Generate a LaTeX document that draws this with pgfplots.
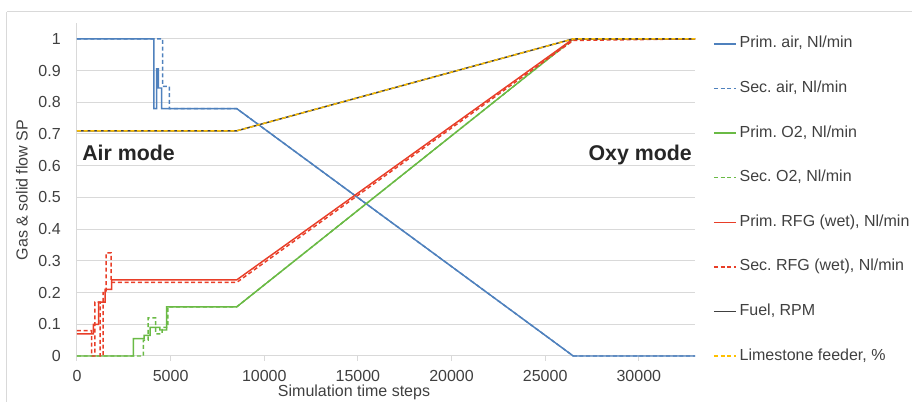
\documentclass[border=0pt]{standalone}
\usepackage{fontspec}
\setmainfont{Liberation Sans}
\usepackage{pgfplots}
\pgfplotsset{compat=1.18}
\definecolor{cblue}{RGB}{79,129,189}
\definecolor{cred}{RGB}{232,62,40}
\definecolor{cgreen}{RGB}{106,186,69}
\definecolor{cfuel}{RGB}{64,64,64}
\definecolor{corange}{RGB}{255,192,0}
\definecolor{cgrid}{RGB}{217,217,217}
\definecolor{ctext}{RGB}{64,64,64}
\begin{document}
\frenchspacing
\begin{tikzpicture}
\path[use as bounding box] (-57.75pt,-34.5pt) rectangle (626.25pt,267pt);
\begin{axis}[
  at={(0,0)}, anchor=south west,
  scale only axis, width=463.5pt, height=249.75pt,
  xmin=0, xmax=33000, ymin=0, ymax=1.05,
  clip=false,
  axis x line=bottom, axis y line=left,
  axis line style={draw=cgrid, line width=0.75pt, -},
  xtick={0,5000,10000,15000,20000,25000,30000},
  ytick={0,0.1,0.2,0.3,0.4,0.5,0.6,0.7,0.8,0.9,1},
  scaled x ticks=false,
  /pgf/number format/assume math mode=true,
  xticklabel style={/pgf/number format/1000 sep={}, anchor=north, inner sep=0pt, yshift=-6.75pt},
  yticklabel style={/pgf/number format/fixed, /pgf/number format/precision=1, anchor=east, inner sep=0pt, xshift=-8.25pt},
  tick label style={font=\fontsize{12}{14}\selectfont, text=ctext},
  ymajorgrids, grid style={cgrid, line width=0.75pt},
  major tick length=3.75pt, tick align=outside,
  ytick style={draw=none}, xtick style={draw=cgrid, line width=0.75pt},
  legend image code/.code={\draw[#1] (0pt,0pt) -- (16.5pt,0pt);},
  legend cell align=left,
  legend style={draw=none, fill=none, at={(1.029,0.962)}, anchor=north west,
    inner sep=0pt, row sep=21.45pt,
    nodes={inner sep=0pt, text height=9pt, text depth=3pt, font=\fontsize{12}{14}\selectfont\frenchspacing, text=ctext},
    /tikz/every odd column/.style={column sep=2.25pt}},
]
\addplot[cblue, line width=1.1pt] coordinates {(0,1)(4110,1)(4110,0.78)(4250,0.78)(4250,0.905)(4340,0.905)(4340,0.845)(4520,0.845)(4520,0.78)(8530,0.78)(26500,0)(33000,0)};
\addlegendentry{Prim. air, Nl/min}
\addplot[cblue, line width=1.1pt, dash pattern=on 3pt off 2pt] coordinates {(0,1)(4570,1)(4570,0.85)(4930,0.85)(4930,0.78)(8530,0.78)(26500,0)(33000,0)};
\addlegendentry{Sec. air, Nl/min}
\addplot[cgreen, line width=1.1pt] coordinates {(0,0)(3010,0)(3010,0.055)(3580,0.055)(3580,0.065)(3900,0.065)(3900,0.09)(4430,0.09)(4430,0.082)(4790,0.082)(4790,0.155)(8530,0.155)(26500,1)(33000,1)};
\addlegendentry{Prim. O2, Nl/min}
\addplot[cgreen, line width=1.1pt, dash pattern=on 3pt off 2pt] coordinates {(0,0)(3540,0)(3540,0.05)(3800,0.05)(3800,0.12)(4200,0.12)(4200,0.07)(4550,0.07)(4550,0.09)(4850,0.09)(4850,0.155)(8530,0.155)(26500,1)(33000,1)};
\addlegendentry{Sec. O2, Nl/min}
\addplot[cred, line width=1.1pt] coordinates {(0,0.07)(870,0.07)(870,0.1)(1150,0.1)(1150,0.17)(1500,0.17)(1500,0.21)(1850,0.21)(1850,0.24)(8530,0.24)(26500,1)(33000,1)};
\addlegendentry{Prim. RFG (wet), Nl/min}
\addplot[cred, line width=1.1pt, dash pattern=on 3pt off 2pt] coordinates {(0,0.08)(780,0.08)(780,0)(960,0)(960,0.17)(1230,0.17)(1230,0)(1390,0)(1390,0.2)(1560,0.2)(1560,0.325)(1820,0.325)(1820,0.232)(8530,0.232)(26500,0.995)(33000,1)};
\addlegendentry{Sec. RFG (wet), Nl/min}
\addplot[cfuel, line width=1.1pt] coordinates {(0,0.71)(8530,0.71)(26500,1)(33000,1)};
\addlegendentry{Fuel, RPM}
\addplot[corange, line width=1.1pt, dash pattern=on 3pt off 2pt] coordinates {(0,0.71)(8530,0.71)(26500,1)(33000,1)};
\addlegendentry{Limestone feeder, \%}
\node[anchor=base west, font=\fontsize{16}{19}\selectfont\bfseries, text={rgb,255:red,38;green,38;blue,38}, inner sep=0pt] at (axis cs:270,0.616) {Air mode};
\node[anchor=base east, font=\fontsize{16}{19}\selectfont\bfseries, text={rgb,255:red,38;green,38;blue,38}, inner sep=0pt] at (axis cs:32840,0.616) {Oxy mode};
\end{axis}
\draw[cgrid, line width=0.75pt] (-52.5pt,258pt) -- (700pt,258pt);
\draw[cgrid, line width=0.75pt] (-52.5pt,258pt) -- (-52.5pt,-40pt);
\node[rotate=90, font=\fontsize{12}{14}\selectfont, text=ctext] at (-41.25pt,124.5pt) {Gas \& solid flow SP};
\node[anchor=north, inner sep=0pt, font=\fontsize{12}{14}\selectfont, text=ctext] at (207.75pt,-21.75pt) {Simulation time steps};
\end{tikzpicture}
\end{document}
